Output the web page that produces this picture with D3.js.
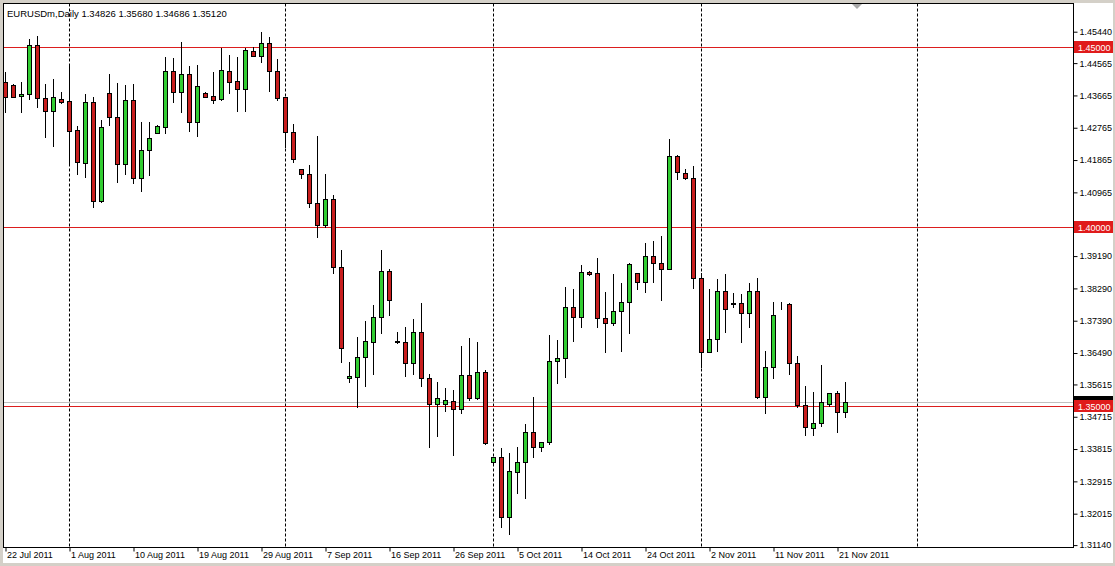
<!DOCTYPE html>
<html>
<head>
<meta charset="utf-8">
<script src="https://cdn.jsdelivr.net/npm/d3@7"></script>
<style>
  html, body { margin: 0; padding: 0; background: #ffffff; }
  svg { display: block; }
  text { font-family: "Liberation Sans", Arial, sans-serif; }
</style>
</head>
<body>
<svg id="chart" width="1115" height="566"></svg>
<script>
// ---------- DATA ----------
const symbolTitle = "EURUSDm,Daily";
const dateLabels = ["22 Jul 2011","1 Aug 2011","10 Aug 2011","19 Aug 2011","29 Aug 2011","7 Sep 2011","16 Sep 2011","26 Sep 2011","5 Oct 2011","14 Oct 2011","24 Oct 2011","2 Nov 2011","11 Nov 2011","21 Nov 2011"];
const dateLabelBars = [0,8,16,24,32,40,48,56,64,72,80,88,96,104];
const priceTicks = [1.45440,1.44565,1.43665,1.42765,1.41865,1.40965,1.39190,1.38290,1.37390,1.36490,1.35615,1.34715,1.33815,1.32915,1.32015,1.31140];
const levelLines = [1.45000, 1.40000, 1.35000];
const bidPrice = 1.35120;
const gridBars = [8, 35, 61, 87, 114];

const open = [1.4403,1.4394,1.4363,1.4369,1.4506,1.4357,1.4323,1.4355,1.4350,1.4269,
1.4178,1.4346,1.4072,1.4371,1.4304,1.4173,1.4352,1.4134,1.4213,1.4261,
1.4278,1.4434,1.4375,1.4425,1.4292,1.4373,1.4363,1.4354,1.4433,1.4405,
1.4384,1.4489,1.4475,1.4510,1.4434,1.4360,1.4264,1.4159,1.4145,1.4066,
1.4004,1.4078,1.3886,1.3577,1.3581,1.3636,1.3679,1.3747,1.3877,1.3679,
1.3679,1.3620,1.3705,1.3577,1.3505,1.3507,1.3515,1.3493,1.3586,1.3521,
1.3594,1.3343,1.3357,1.3190,1.3317,1.3343,1.3427,1.3386,1.3400,1.3625,
1.3633,1.3775,1.3749,1.3874,1.3870,1.3744,1.3730,1.3765,1.3790,1.3870,
1.3846,1.3918,1.3897,1.3883,1.4196,1.4150,1.4134,1.3856,1.3651,1.3686,
1.3820,1.3786,1.3786,1.3758,1.3821,1.3524,1.3608,1.3783,1.3784,1.3620,
1.3504,1.3438,1.3453,1.3507,1.3535,1.34826];
const high = [1.4431,1.4396,1.4403,1.4522,1.4531,1.4397,1.4410,1.4375,1.4452,1.4280,
1.4369,1.4362,1.4297,1.4425,1.4399,1.4394,1.4397,1.4292,1.4292,1.4282,
1.4473,1.4469,1.4515,1.4447,1.4450,1.4375,1.4431,1.4496,1.4478,1.4473,
1.4496,1.4499,1.4543,1.4527,1.4466,1.4362,1.4286,1.4160,1.4171,1.4252,
1.4146,1.4088,1.3934,1.3622,1.3693,1.3738,1.3781,1.3934,1.3883,1.3707,
1.3721,1.3741,1.3788,1.3589,1.3568,1.3549,1.3546,1.3667,1.3690,1.3677,
1.3600,1.3358,1.3382,1.3370,1.3385,1.3450,1.3524,1.3399,1.3698,1.3684,
1.3832,1.3825,1.3893,1.3877,1.3911,1.3817,1.3868,1.3842,1.3897,1.3870,
1.3953,1.3960,1.3973,1.4244,1.4198,1.4159,1.4168,1.3870,1.3825,1.3853,
1.3868,1.3814,1.3812,1.3844,1.3856,1.3654,1.3791,1.3791,1.3788,1.3639,
1.3556,1.3540,1.3614,1.3535,1.3543,1.35680];
const low = [1.4320,1.4360,1.4320,1.4354,1.4334,1.4250,1.4224,1.4343,1.4176,1.4146,
1.4139,1.4053,1.4069,1.4283,1.4125,1.4146,1.4120,1.4100,1.4143,1.4260,
1.4260,1.4348,1.4320,1.4267,1.4252,1.4360,1.4343,1.4352,1.4373,1.4323,
1.4323,1.4474,1.4459,1.4378,1.4352,1.4222,1.4180,1.4134,1.4055,1.3970,
1.3999,1.3870,1.3623,1.3568,1.3498,1.3556,1.3589,1.3702,1.3753,1.3675,
1.3583,1.3589,1.3556,1.3385,1.3416,1.3487,1.3363,1.3480,1.3517,1.3519,
1.3394,1.3342,1.3164,1.3143,1.3258,1.3243,1.3359,1.3375,1.3393,1.3565,
1.3581,1.3682,1.3721,1.3865,1.3721,1.3651,1.3726,1.3654,1.3702,1.3826,
1.3818,1.3846,1.3795,1.3882,1.4131,1.4131,1.3828,1.3608,1.3651,1.3654,
1.3707,1.3775,1.3679,1.3721,1.3521,1.3481,1.3577,1.3770,1.3589,1.3497,
1.3419,1.3419,1.3444,1.3500,1.3428,1.34686];
const close = [1.4362,1.4362,1.4369,1.4506,1.4357,1.4323,1.4362,1.4348,1.4267,1.4180,
1.4346,1.4072,1.4276,1.4304,1.4173,1.4352,1.4134,1.4213,1.4246,1.4280,
1.4434,1.4375,1.4425,1.4292,1.4391,1.4362,1.4352,1.4436,1.4403,1.4384,
1.4492,1.4475,1.4510,1.4434,1.4357,1.4264,1.4188,1.4145,1.4066,1.4004,
1.4078,1.3886,1.3661,1.3583,1.3636,1.3681,1.3747,1.3877,1.3795,1.3680,
1.3620,1.3705,1.3577,1.3505,1.3521,1.3517,1.3493,1.3586,1.3521,1.3594,
1.3396,1.3357,1.3190,1.3319,1.3343,1.3427,1.3385,1.3399,1.3625,1.3633,
1.3775,1.3749,1.3874,1.3867,1.3744,1.3730,1.3765,1.3790,1.3895,1.3846,
1.3918,1.3897,1.3883,1.4196,1.4153,1.4134,1.3856,1.3651,1.3686,1.3820,
1.3769,1.3784,1.3758,1.3821,1.3524,1.3608,1.3753,1.3784,1.3620,1.3503,
1.3441,1.3454,1.3512,1.3535,1.3482,1.35120];

// ---------- LAYOUT ----------
const W = 1115, H = 566;
const plot = {left: 3.5, top: 3.5, right: 1073.5, bottom: 547.5};
const bullFill = "#32cd32", bearFill = "#c81e1e", levelColor = "#dc1e1e";

const svg = d3.select("#chart");

// scales
const x = d3.scaleLinear().domain([0, 100]).range([5, 805]);
const y = d3.scaleLinear().domain([1.4544, 1.3114]).range([31.2, 544.6]);

// window background
svg.append("rect").attr("x", 0).attr("y", 0).attr("width", W).attr("height", H).attr("fill", "#d4d0c8");
svg.append("rect").attr("x", 3).attr("y", 3).attr("width", 1110).attr("height", 560).attr("fill", "#ffffff");

const defs = svg.append("defs");
defs.append("clipPath").attr("id", "plotclip").append("rect")
  .attr("x", plot.left).attr("y", plot.top)
  .attr("width", plot.right - plot.left).attr("height", plot.bottom - plot.top);

const g = svg.append("g").attr("clip-path", "url(#plotclip)");

// dashed vertical grid lines
g.selectAll("line.grid").data(gridBars).enter().append("line")
  .attr("class", "grid")
  .attr("x1", d => Math.round(x(d)) + 0.5).attr("x2", d => Math.round(x(d)) + 0.5)
  .attr("y1", plot.top).attr("y2", plot.bottom)
  .attr("stroke", "#000").attr("stroke-width", 1).attr("stroke-dasharray", "3,2");

// bid line
g.append("line")
  .attr("x1", plot.left).attr("x2", plot.right)
  .attr("y1", Math.round(y(bidPrice)) + 0.5).attr("y2", Math.round(y(bidPrice)) + 0.5)
  .attr("stroke", "#c0c0c0").attr("stroke-width", 1);

// level lines
g.selectAll("line.level").data(levelLines).enter().append("line")
  .attr("class", "level")
  .attr("x1", plot.left).attr("x2", plot.right)
  .attr("y1", d => Math.round(y(d)) + 0.5).attr("y2", d => Math.round(y(d)) + 0.5)
  .attr("stroke", levelColor).attr("stroke-width", 1);

// candles
const bars = d3.range(open.length).map(i => ({i, o: open[i], h: high[i], l: low[i], c: close[i]}));
const cg = g.selectAll("g.candle").data(bars).enter().append("g").attr("class", "candle");
cg.append("line")
  .attr("x1", d => Math.round(x(d.i)) + 0.5).attr("x2", d => Math.round(x(d.i)) + 0.5)
  .attr("y1", d => Math.round(y(d.h))).attr("y2", d => Math.round(y(d.l)) + 1)
  .attr("stroke", "#000").attr("stroke-width", 1);
cg.append("rect")
  .attr("x", d => Math.round(x(d.i)) - 2 + 0.5)
  .attr("width", 4)
  .attr("y", d => Math.round(y(Math.max(d.o, d.c))) + 0.5)
  .attr("height", d => Math.max(0, Math.round(y(Math.min(d.o, d.c))) - Math.round(y(Math.max(d.o, d.c)))))
  .attr("fill", d => d.c >= d.o ? bullFill : bearFill)
  .attr("stroke", "#000").attr("stroke-width", 1);

// chart shift marker
svg.append("path").attr("d", "M852,4 L862,4 L857,9 Z").attr("fill", "#a8a8a8");

// frame
svg.append("rect")
  .attr("x", plot.left).attr("y", plot.top)
  .attr("width", plot.right - plot.left).attr("height", plot.bottom - plot.top)
  .attr("fill", "none").attr("stroke", "#000").attr("stroke-width", 1);

// right price axis
const yAxis = d3.axisRight(y).tickValues(priceTicks).tickFormat(d3.format(".5f")).tickSize(4).tickPadding(2);
const ya = svg.append("g").attr("transform", `translate(${plot.right},0.5)`).call(yAxis);
ya.select(".domain").remove();
ya.selectAll(".tick line").attr("stroke", "#000");
ya.selectAll(".tick text").attr("font-size", "9px").attr("fill", "#000")
  .attr("font-family", "Liberation Sans, Arial, sans-serif");

// bottom time axis
const xAxis = d3.axisBottom(x).tickValues(dateLabelBars).tickFormat((d, k) => dateLabels[k]).tickSize(4).tickPadding(2);
const xa = svg.append("g").attr("transform", `translate(0.5,${plot.bottom})`).call(xAxis);
xa.select(".domain").remove();
xa.selectAll(".tick line").attr("stroke", "#000");
xa.selectAll(".tick text").attr("font-size", "9px").attr("fill", "#000")
  .attr("text-anchor", "start").attr("dx", "1px").attr("y", 4)
  .attr("font-family", "Liberation Sans, Arial, sans-serif");

// price labels: bid (black) then levels (red)
function priceTag(p, fill) {
  const yy = Math.round(y(p));
  svg.append("rect").attr("x", 1074).attr("y", yy - 6).attr("width", 39).attr("height", 12).attr("fill", fill);
  svg.append("text").attr("x", 1078).attr("y", yy + 3.5).attr("font-size", "9px").attr("fill", "#fff")
    .text(d3.format(".5f")(p));
}
priceTag(bidPrice, "#000000");
levelLines.forEach(p => priceTag(p, "#e01b1b"));

// title
svg.append("text").attr("x", 7).attr("y", 17).attr("font-size", "9.5px").attr("fill", "#000")
  .text(symbolTitle + "  " + [open[open.length-1], high[high.length-1], low[low.length-1], close[close.length-1]].map(d3.format(".5f")).join(" "));
</script>
</body>
</html>
